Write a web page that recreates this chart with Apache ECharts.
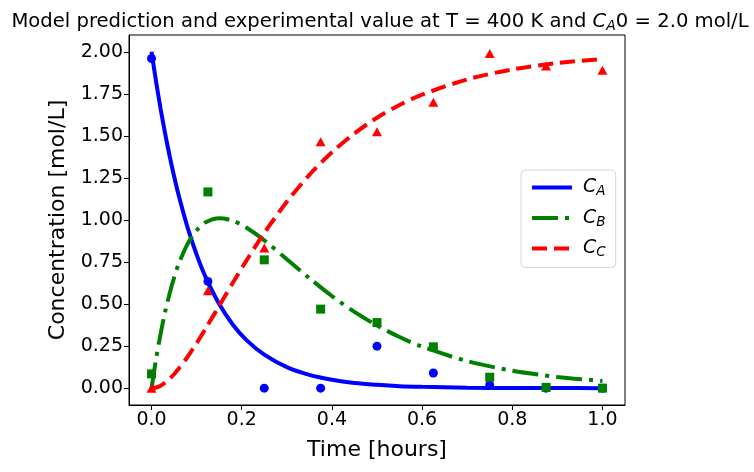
<!DOCTYPE html>
<html>
<head>
<meta charset="utf-8">
<script src="https://cdn.jsdelivr.net/npm/echarts@6/dist/echarts.min.js"></script>
<style>
html,body{margin:0;padding:0;background:#fff;}
#chart{width:754px;height:472px;}
</style>
</head>
<body>
<div id="chart"></div>
<script>
// Model curves
const modelTime = [0, 0.01, 0.02, 0.03, 0.04, 0.05, 0.06, 0.08, 0.10, 0.12, 0.15, 0.18, 0.21, 0.25, 0.30, 0.35, 0.40, 0.45, 0.50, 0.55, 0.60, 0.70, 0.80, 0.90, 1.00];
const modelCA = [2.000, 1.824, 1.663, 1.516, 1.382, 1.260, 1.149, 0.955, 0.794, 0.660, 0.500, 0.379, 0.287, 0.199, 0.125, 0.079, 0.050, 0.031, 0.020, 0.012, 0.008, 0.003, 0.001, 0.001, 0.000];
const modelCB = [0.000, 0.173, 0.322, 0.452, 0.562, 0.657, 0.737, 0.858, 0.938, 0.986, 1.010, 0.996, 0.955, 0.879, 0.767, 0.654, 0.548, 0.454, 0.373, 0.304, 0.247, 0.161, 0.104, 0.067, 0.043];
const modelCC = [0.000, 0.004, 0.015, 0.033, 0.056, 0.083, 0.115, 0.187, 0.268, 0.355, 0.490, 0.625, 0.757, 0.923, 1.108, 1.268, 1.403, 1.515, 1.608, 1.684, 1.745, 1.836, 1.895, 1.933, 1.957];

// Experimental values
const expTime = [0, 0.125, 0.25, 0.375, 0.5, 0.625, 0.75, 0.875, 1.0];
const expCA = [1.96, 0.635, 0.0, 0.0, 0.25, 0.09, 0.02, 0.0, 0.0];
const expCB = [0.085, 1.167, 0.763, 0.47, 0.39, 0.246, 0.065, 0.005, 0.0];
const expCC = [0.0, 0.58, 0.833, 1.465, 1.525, 1.70, 1.99, 1.915, 1.89];

// Tick labels
const xTicks = [0.0, 0.2, 0.4, 0.6, 0.8, 1.0];
const yTicks = [0.0, 0.25, 0.5, 0.75, 1.0, 1.25, 1.5, 1.75, 2.0];

const seriesNames = ['C_A', 'C_B', 'C_C'];
const seriesSubs = ['A', 'B', 'C'];
const colors = ['#0000ff', '#008000', '#ff0000'];

const zip = (xs, ys) => xs.map((x, i) => [x, ys[i]]);
const FONT = 'DejaVu Sans';

const chart = echarts.init(document.getElementById('chart'), null, {renderer: 'canvas'});
const option = {
  animation: false,
  backgroundColor: '#fff',
  textStyle: {fontFamily: FONT, color: '#000'},
  title: {
    text: 'Model prediction and experimental value at T = 400 K and {c|C}{s|A}0 = 2.0 mol/L',
    left: 375,
    top: 6,
    textAlign: 'center',
    textStyle: {
      fontFamily: FONT, fontSize: 19.6, fontWeight: 'normal', color: '#000',
      rich: {
        c: {fontFamily: FONT, fontSize: 19.6, fontStyle: 'italic', color: '#000'},
        s: {fontFamily: FONT, fontSize: 14, fontStyle: 'italic', color: '#000', verticalAlign: 'bottom', padding: [8, 0, 0, 0]}
      }
    }
  },
  grid: {left: 129, right: 129, top: 35, bottom: 67, show: true, borderColor: '#000', borderWidth: 1, backgroundColor: 'transparent'},
  legend: {
    orient: 'vertical',
    left: 521, top: 170,
    width: 96,
    padding: [8, 10, 8, 9],
    itemGap: 10,
    itemWidth: 40, itemHeight: 20,
    backgroundColor: 'rgba(255,255,255,0.8)',
    borderColor: '#d6d6d6', borderWidth: 1, borderRadius: 4,
    data: seriesNames,
    lineStyle: {width: 4},
    formatter: function (name) { return '{c|C}{s|' + seriesSubs[seriesNames.indexOf(name)] + '}'; },
    textStyle: {
      fontFamily: FONT, fontSize: 19, color: '#000',
      rich: {
        c: {fontFamily: FONT, fontSize: 19, fontStyle: 'italic', color: '#000', padding: [0, 0, 0, 6]},
        s: {fontFamily: FONT, fontSize: 13.5, fontStyle: 'italic', color: '#000', verticalAlign: 'bottom', padding: [8, 0, 0, 0]}
      }
    }
  },
  xAxis: {
    type: 'value', min: -0.05, max: 1.05,
    name: 'Time [hours]', nameLocation: 'middle', nameGap: 34,
    nameTextStyle: {fontFamily: FONT, fontSize: 22, color: '#000'},
    splitLine: {show: false},
    axisLine: {show: true, onZero: false, lineStyle: {color: '#000', width: 1}},
    axisTick: {show: true, inside: false, length: 5, customValues: xTicks, lineStyle: {color: '#000', width: 1}},
    axisLabel: {customValues: xTicks, fontFamily: FONT, fontSize: 19, color: '#000', margin: 6,
      formatter: v => v.toFixed(1)}
  },
  yAxis: {
    type: 'value', min: -0.1, max: 2.1,
    name: 'Concentration [mol/L]', nameLocation: 'middle', nameGap: 60,
    nameTextStyle: {fontFamily: FONT, fontSize: 22, color: '#000'},
    splitLine: {show: false},
    axisLine: {show: true, onZero: false, lineStyle: {color: '#000', width: 1}},
    axisTick: {show: true, inside: false, length: 5, customValues: yTicks, lineStyle: {color: '#000', width: 1}},
    axisLabel: {customValues: yTicks, fontFamily: FONT, fontSize: 19, color: '#000', margin: 6,
      formatter: v => v.toFixed(2)}
  },
  series: [
    {name: 'C_A', type: 'line', data: zip(modelTime, modelCA), smooth: 0.3, symbol: 'none', z: 2,
      lineStyle: {color: colors[0], width: 4, type: 'solid'}, itemStyle: {color: colors[0], opacity: 0}},
    {name: 'C_B', type: 'line', data: zip(modelTime, modelCB), smooth: 0.3, symbol: 'none', z: 2,
      lineStyle: {color: colors[1], width: 4, type: [26, 7, 4, 7], cap: 'butt'}, itemStyle: {color: colors[1], opacity: 0}},
    {name: 'C_C', type: 'line', data: zip(modelTime, modelCC), smooth: 0.3, symbol: 'none', z: 2,
      lineStyle: {color: colors[2], width: 4, type: [15, 7], cap: 'butt'}, itemStyle: {color: colors[2], opacity: 0}},
    {name: 'expA', type: 'scatter', data: zip(expTime, expCA), symbol: 'circle', symbolSize: 9, z: 3,
      itemStyle: {color: colors[0], opacity: 1}},
    {name: 'expB', type: 'scatter', data: zip(expTime, expCB), symbol: 'rect', symbolSize: 9, z: 3,
      itemStyle: {color: colors[1], opacity: 1}},
    {name: 'expC', type: 'scatter', data: zip(expTime, expCC), symbol: 'triangle', symbolSize: [10, 9], z: 3,
      itemStyle: {color: colors[2], opacity: 1}}
  ]
};
chart.setOption(option);
</script>
</body>
</html>
